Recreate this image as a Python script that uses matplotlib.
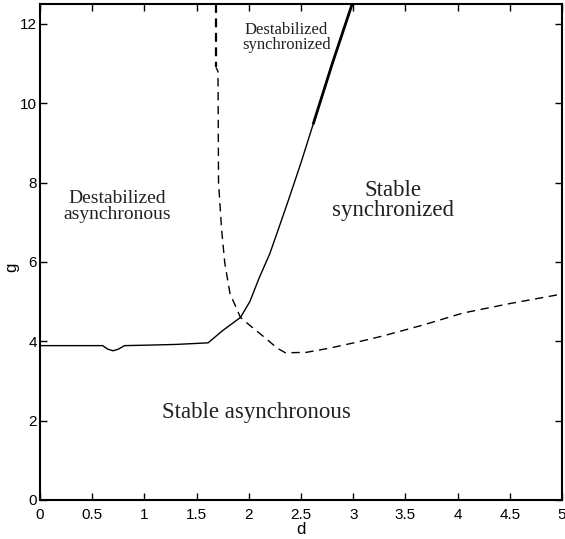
import matplotlib
matplotlib.use('Agg')
import matplotlib.pyplot as plt

# solid boundary (synchronized state stability)
solid_d = [0, 0.6, 0.65, 0.7, 0.75, 0.81, 1.0, 1.3, 1.61, 1.75, 1.92, 2.01,
           2.1, 2.2, 2.28, 2.38, 2.5, 2.62, 2.8, 2.99]
solid_g = [3.89, 3.89, 3.8, 3.76, 3.8, 3.89, 3.9, 3.92, 3.96, 4.27, 4.6, 5.0,
           5.6, 6.2, 6.8, 7.56, 8.5, 9.5, 11.0, 12.5]
# thicker upper piece of the solid boundary
thick_d = [2.62, 2.8, 2.99]
thick_g = [9.5, 11.0, 12.5]

# dashed boundary (asynchronous state stability), bolder top piece first
dash_top_d = [1.686, 1.686]
dash_top_g = [12.5, 10.9]
dash_d = [1.686, 1.705, 1.71, 1.74, 1.77, 1.82, 1.92, 2.01, 2.15, 2.27,
          2.35, 2.55, 2.78, 3.04, 3.28, 3.67, 4.05, 4.5, 5.0]
dash_g = [10.9, 10.8, 8.0, 6.8, 5.97, 5.2, 4.6, 4.4, 4.1, 3.83,
          3.71, 3.72, 3.83, 3.98, 4.13, 4.41, 4.71, 4.95, 5.19]

xticks = [0, 0.5, 1, 1.5, 2, 2.5, 3, 3.5, 4, 4.5, 5]
xticklabels = ['0', '0.5', '1', '1.5', '2', '2.5', '3', '3.5', '4', '4.5', '5']
yticks = [0, 2, 4, 6, 8, 10, 12]

fig = plt.figure(figsize=(5.65, 5.39), dpi=100)
ax = fig.add_axes([0.0708, 0.0724, 0.9239, 0.9202])

ax.plot(solid_d, solid_g, color='black', lw=1.0)
ax.plot(thick_d, thick_g, color='black', lw=2.0)
ax.plot(dash_top_d, dash_top_g, color='black', lw=1.6, linestyle=(0, (4, 2.5)))
ax.plot(dash_d, dash_g, color='black', lw=1.0, linestyle=(2, (6, 4)))

ax.set_xlim(0, 5)
ax.set_ylim(0, 12.5)
ax.set_xticks(xticks)
ax.set_xticklabels(xticklabels)
ax.set_yticks(yticks)
ax.tick_params(direction='in', top=True, right=True, length=5, width=1,
               labelsize=11)
ax.tick_params(axis='x', pad=6)
ax.tick_params(axis='y', pad=2)
for s in ax.spines.values():
    s.set_linewidth(1.5)
for lab in ax.get_xticklabels() + ax.get_yticklabels():
    lab.set_family('Liberation Sans')

ax.set_xlabel('d', fontsize=12, family='Liberation Sans')
ax.xaxis.set_label_coords(0.5, -0.045)
ax.set_ylabel('g', fontsize=12, family='Liberation Sans')
ax.yaxis.set_label_coords(-0.04, 0.47)

serif = 'Liberation Serif'
ax.text(0.74, 7.4, 'Destabilized\nasynchronous', fontsize=14, family=serif,
        ha='center', va='center', linespacing=0.9, color='#222222')
ax.text(2.36, 11.65, 'Destabilized\nsynchronized', fontsize=12, family=serif,
        ha='center', va='center', linespacing=0.95, color='#222222')
ax.text(3.38, 7.55, 'Stable\nsynchronized', fontsize=16.5, family=serif,
        ha='center', va='center', linespacing=0.95, color='#222222')
ax.text(2.07, 2.2, 'Stable asynchronous', fontsize=16.5, family=serif,
        ha='center', va='center', color='#222222')

fig.savefig('out.png', dpi=100)
